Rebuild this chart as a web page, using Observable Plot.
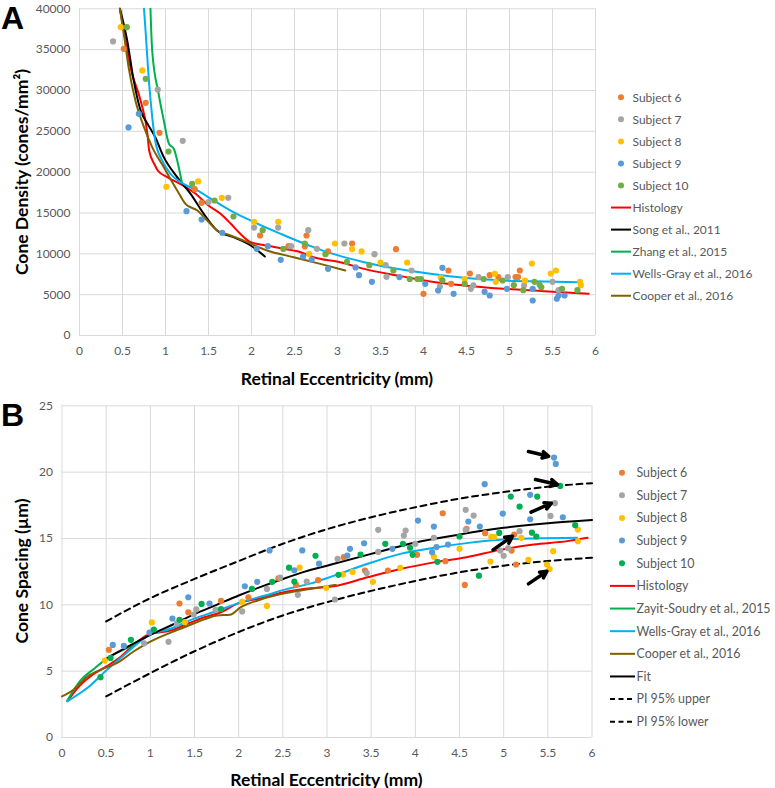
<!DOCTYPE html>
<html>
<head>
<meta charset="utf-8">
<script src="https://cdn.jsdelivr.net/npm/d3@7"></script>
<script src="https://cdn.jsdelivr.net/npm/@observablehq/plot@0.6"></script>
<style>
  html, body { margin: 0; padding: 0; background: #fff; }
  #root { position: relative; width: 775px; height: 788px; overflow: hidden; font-family: Lato, "Open Sans", sans-serif; }
  .abs { position: absolute; }
  .title { position: absolute; font-family: Lato, sans-serif; font-weight: bold; font-size: 17.5px; color: #000; white-space: nowrap; transform: translate(-50%, -50%); }
  .ytitle { transform: translate(-50%, -50%) rotate(-90deg); }
  .panel { position: absolute; font-family: "Liberation Sans", Arial, sans-serif; font-weight: bold; font-size: 32px; color: #000; line-height: 1; }
  .leg { position: absolute; left: 0; top: 0; width: 775px; height: 788px; pointer-events: none; }
</style>
</head>
<body>
<div id="root"></div>
<script>
// ---------- shared ticks ----------
const xTicks = [0, 0.5, 1, 1.5, 2, 2.5, 3, 3.5, 4, 4.5, 5, 5.5, 6];
const yTicksA = [0, 5000, 10000, 15000, 20000, 25000, 30000, 35000, 40000];
const yTicksB = [0, 5, 10, 15, 20, 25];

// ---------- Panel A: cone density (x mm, y cones/mm²) ----------
const subj6A = [[0.515,35100],[0.77,28490],[0.93,24820],[1.34,17920],[1.42,16250],[2.10,12245],[2.43,10940],[2.64,12245],[2.62,10900],[2.89,10300],[3.17,11265],[3.68,10570],[4.00,5100],[4.29,7960],[4.32,6330],[4.54,7590],[4.77,7390],[4.87,7150],[5.07,7150],[5.10,7150],[5.12,7960]];
const subj7A = [[0.39,36000],[0.91,30120],[1.20,23840],[1.50,16330],[1.73,16860],[2.03,13220],[2.31,13220],[2.46,10940],[2.66,12900],[2.76,10610],[3.08,11265],[3.43,9960],[3.56,8610],[3.57,7185],[3.86,7960],[4.19,6000],[4.55,5715],[4.58,6150],[4.64,7140],[4.98,7140],[5.17,6150],[5.50,6570],[5.57,5550]];
const subj8A = [[0.48,37750],[0.73,32450],[1.01,18200],[1.38,18860],[1.655,16860],[2.03,13920],[2.31,13920],[2.67,10000],[2.97,11265],[3.17,10570],[3.28,10290],[3.50,8940],[3.81,8940],[4.20,7100],[4.48,6900],[4.83,7550],[4.84,6570],[5.18,6735],[5.26,8815],[5.48,7590],[5.54,7960],[5.82,6570],[5.83,6160]];
const subj9A = [[0.57,25470],[0.69,27140],[1.244,15220],[1.42,14200],[1.66,12570],[2.06,10610],[2.19,10940],[2.34,9265],[2.60,9670],[2.70,9300],[2.89,8165],[3.21,8330],[3.25,7390],[3.40,6570],[3.72,7150],[4.02,6330],[4.17,5510],[4.22,8290],[4.35,5100],[4.71,5350],[4.77,4900],[4.97,5715],[5.27,5715],[5.27,4285],[5.55,4500],[5.57,4900],[5.64,4900]];
const subj10A = [[0.55,37750],[0.77,31430],[1.035,22530],[1.31,18570],[1.57,16530],[1.79,14570],[2.13,12900],[2.37,10600],[2.62,11265],[2.86,9960],[3.11,9020],[3.37,8610],[3.65,7960],[3.84,6920],[3.93,6920],[3.97,6920],[4.22,6750],[4.48,6330],[4.70,6920],[4.92,6735],[5.05,6160],[5.16,5550],[5.29,6570],[5.35,6200],[5.37,5900],[5.61,5715],[5.79,5550]];

const histologyA = [[0.47,40000],[0.52,37000],[0.60,32500],[0.71,28780],[0.79,24690],[0.81,22650],[0.87,21000],[0.91,20200],[1.02,19390],[1.17,18570],[1.35,17350],[1.50,15920],[1.64,14900],[1.76,13680],[1.87,12450],[1.99,11430],[2.18,11020],[2.38,10610],[2.57,10200],[2.72,9590],[3.03,8980],[3.31,8160],[3.69,7350],[4.08,6620],[4.47,6120],[4.93,5720],[5.40,5430],[5.92,5100]];
const songA = [[0.47,40000],[0.555,36100],[0.63,31230],[0.71,27570],[0.79,25940],[0.88,24300],[0.98,21840],[1.136,19390],[1.29,17370],[1.445,14900],[1.60,12860],[1.79,12040],[1.99,11020],[2.155,9670]];
const zhangA = [[0.825,40000],[0.845,34900],[0.92,29600],[0.98,26330],[1.04,23470],[1.097,22860],[1.136,21430],[1.19,18780]];
const wellsGrayA = [[0.75,40000],[0.77,37000],[0.81,30800],[0.845,26800],[0.88,23880],[0.96,21430],[1.058,19800],[1.175,18780],[1.37,17760],[1.56,16530],[1.79,15100],[2.03,13880],[2.34,12450],[2.72,10820],[2.92,10080],[3.31,8980],[3.69,8160],[4.08,7550],[4.47,7060],[4.93,6740],[5.40,6610],[5.82,6530]];
const cooperA = [[0.47,40000],[0.515,37000],[0.57,32900],[0.65,28780],[0.75,25510],[0.845,23060],[0.98,20610],[1.136,17760],[1.232,16120],[1.37,15300],[1.485,14080],[1.60,12860],[1.756,12250],[1.95,11430],[2.18,10410],[2.49,9590],[2.80,8770],[3.09,7960]];

// ---------- Panel B: cone spacing (x mm, y µm) ----------
const subj6B = [[0.53,6.61],[1.33,10.1],[1.43,9.44],[1.80,10.3],[2.11,10.57],[2.45,12.0],[2.65,11.5],[2.90,11.86],[3.19,13.59],[3.43,12.58],[3.69,12.58],[4.02,13.77],[4.31,16.9],[4.34,13.29],[4.56,11.5],[4.58,15.73],[4.79,15.4],[5.09,14.09],[5.12,15.3],[5.14,13.04]];
const subj7B = [[0.93,7.1],[1.206,7.21],[1.30,8.6],[1.49,9.27],[1.52,9.65],[1.74,9.62],[2.04,9.5],[2.32,11.2],[2.47,12.05],[2.67,10.75],[2.77,11.75],[3.09,10.4],[3.12,13.46],[3.45,12.4],[3.58,15.65],[3.58,13.99],[3.87,15.22],[3.89,15.6],[4.0,14.6],[4.21,15.05],[4.57,15.65],[4.57,17.16],[4.66,16.73],[4.96,14.09],[5.0,13.7],[5.05,14.27],[5.18,15.55],[5.53,16.7],[5.58,17.66]];
const subj8B = [[0.485,5.80],[1.017,8.67],[1.39,8.69],[2.04,10.22],[2.32,9.92],[2.69,12.8],[2.99,11.28],[3.18,12.28],[3.29,12.48],[3.52,11.73],[3.83,12.79],[4.21,13.62],[4.50,14.22],[4.85,13.26],[4.86,15.12],[4.89,15.12],[5.20,15.05],[5.28,13.39],[5.49,13.04],[5.52,12.7],[5.56,14.04],[5.84,15.67],[5.84,14.8]];
const subj9B = [[0.575,6.98],[0.70,6.9],[0.99,7.91],[1.25,8.97],[1.43,10.57],[1.67,10.1],[2.07,11.4],[2.21,11.73],[2.35,14.1],[2.63,12.6],[2.72,14.1],[2.91,13.1],[3.23,13.71],[3.26,14.22],[3.42,14.64],[3.74,14.22],[4.03,16.35],[4.19,13.97],[4.21,15.9],[4.24,14.35],[4.37,14.54],[4.60,16.28],[4.73,15.9],[4.785,19.09],[4.99,16.88],[5.30,18.29],[5.30,16.45],[5.57,21.1],[5.59,20.62],[5.67,16.6]];
const subj10B = [[0.436,4.55],[0.55,6.0],[0.78,7.36],[1.04,8.14],[1.33,8.87],[1.58,10.07],[1.80,9.67],[2.15,11.2],[2.38,11.73],[2.57,12.8],[2.63,11.75],[2.87,13.7],[3.13,12.26],[3.38,13.79],[3.66,14.6],[3.86,14.6],[3.94,14.3],[3.97,13.77],[4.25,13.24],[4.50,15.15],[4.72,12.2],[4.95,15.42],[5.08,18.16],[5.18,17.4],[5.32,15.44],[5.37,15.15],[5.38,18.16],[5.64,18.96],[5.81,16.0]];

const histologyB = [[0.06,2.73],[0.20,3.9],[0.35,4.75],[0.50,5.35],[0.65,6.0],[0.80,6.9],[0.98,7.76],[1.23,8.06],[1.42,8.56],[1.61,9.06],[1.80,9.44],[1.98,10.07],[2.25,10.5],[2.55,11.0],[2.81,11.25],[3.08,11.4],[3.46,12.08],[3.83,12.7],[4.21,13.2],[4.58,13.59],[4.96,14.14],[5.34,14.54],[5.72,14.8],[5.95,15.05]];
const zayitB = [[0.06,2.78],[0.21,4.3],[0.36,5.17],[0.53,6.06],[0.74,6.75],[0.95,7.55]];
const wellsGrayB = [[0.06,2.73],[0.30,3.8],[0.51,5.1],[0.74,6.43],[0.98,7.7],[1.23,8.2],[1.49,8.94],[1.77,9.57],[2.03,10.2],[2.30,10.7],[2.55,11.2],[2.81,11.6],[3.08,12.2],[3.46,13.09],[3.83,13.84],[4.21,14.3],[4.58,14.65],[4.96,14.9],[5.34,15.0],[5.83,15.05]];
const cooperB = [[0.0,3.1],[0.13,3.6],[0.285,4.58],[0.47,5.2],[0.62,5.6],[0.81,6.48],[1.0,7.23],[1.23,7.9],[1.42,8.4],[1.61,8.9],[1.76,9.2],[1.90,9.25],[2.02,9.8],[2.25,10.4],[2.55,10.9],[2.81,11.2],[3.10,11.5]];
const fitB = [[0.5,5.93],[0.75,6.86],[1.0,7.73],[1.25,8.5],[1.5,9.3],[1.75,10.0],[2.0,10.7],[2.25,11.35],[2.5,11.95],[2.75,12.5],[3.0,12.95],[3.5,13.84],[4.0,14.7],[4.5,15.3],[5.0,15.8],[5.5,16.15],[6.0,16.4]];
const piUpperB = [[0.5,8.75],[1.0,10.5],[1.5,11.95],[2.0,13.3],[2.5,14.6],[3.0,15.7],[3.5,16.6],[4.0,17.35],[4.5,18.0],[5.0,18.5],[5.5,18.9],[6.0,19.17]];
const piLowerB = [[0.5,3.1],[1.0,4.85],[1.5,6.5],[2.0,7.95],[2.5,9.2],[3.0,10.2],[3.5,11.05],[4.0,11.8],[4.5,12.45],[5.0,12.95],[5.5,13.3],[6.0,13.55]];
// arrows pointing at outliers: [x1, y1, x2, y2]
const arrowsB = [[5.28,21.55,5.51,21.2],[5.36,19.44,5.61,19.07],[5.31,16.98,5.54,17.66],[4.88,14.14,5.10,15.17],[5.28,11.58,5.49,12.53]];

// ---------- colours & labels ----------
const C = {orange:"#ED7D31", gray:"#A5A5A5", yellow:"#FFC000", blue:"#5B9BD5", greenA:"#70AD47", greenB:"#00B050",
           red:"#FF0000", black:"#000000", zhang:"#00B050", cyan:"#00B0F0", brown:"#7F6000"};

const subjectsA = [["Subject 6", subj6A, C.orange],["Subject 7", subj7A, C.gray],["Subject 8", subj8A, C.yellow],["Subject 9", subj9A, C.blue],["Subject 10", subj10A, C.greenA]];
const linesA = [["Histology", histologyA, C.red],["Song et al., 2011", songA, C.black],["Zhang et al., 2015", zhangA, C.zhang],["Wells-Gray et al., 2016", wellsGrayA, C.cyan],["Cooper et al., 2016", cooperA, C.brown]];
const subjectsB = [["Subject 6", subj6B, C.orange],["Subject 7", subj7B, C.gray],["Subject 8", subj8B, C.yellow],["Subject 9", subj9B, C.blue],["Subject 10", subj10B, C.greenB]];
const linesB = [["Histology", histologyB, C.red, false],["Zayit-Soudry et al., 2015", zayitB, C.greenB, false],["Wells-Gray et al., 2016", wellsGrayB, C.cyan, false],["Cooper et al., 2016", cooperB, C.brown, false],["Fit", fitB, C.black, false],["PI 95% upper", piUpperB, C.black, true],["PI 95% lower", piLowerB, C.black, true]];

const fmt = d => String(d);
const gridStyle = {stroke:"#D9D9D9", strokeOpacity:1, strokeWidth:1};

function panel(opts) {
  const {yDomain, yTicks, subjects, lines, extra, marginLeft, marginRight, marginTop, marginBottom, height} = opts;
  const marks = [
    Plot.gridX(xTicks, gridStyle),
    Plot.gridY(yTicks, gridStyle),
    Plot.axisX(xTicks, {tickSize:0, tickPadding:11, tickFormat:fmt, label:null, fill:"#595959", fontSize:12}),
    Plot.axisY(yTicks, {tickSize:0, tickPadding:9, tickFormat:fmt, label:null, fill:"#595959", fontSize:12}),
  ];
  for (const [name, data, color, dashed] of lines) {
    marks.push(Plot.line(data, {x:d=>d[0], y:d=>d[1], stroke:color, strokeWidth:2, curve:"monotone-x", strokeDasharray: dashed ? "6,4.5" : null}));
  }
  for (const [name, data, color] of subjects) {
    marks.push(Plot.dot(data, {x:d=>d[0], y:d=>d[1], r:3.1, fill:color, stroke:"none"}));
  }
  if (extra) marks.push(...extra);
  return Plot.plot({
    width: 775, height, marginLeft, marginRight, marginTop, marginBottom,
    x: {domain:[0,6], axis:null},
    y: {domain:yDomain, axis:null},
    style: {fontFamily:"Lato, sans-serif", fontSize:"12px", background:"transparent", overflow:"visible"},
    marks
  });
}

const root = document.getElementById("root");

const chartA = panel({yDomain:[0,40000], yTicks:yTicksA, subjects:subjectsA, lines:linesA.map(l=>[...l,false]),
  marginLeft:79, marginRight:180, marginTop:8.3, marginBottom:60, height:395});
const wrapA = document.createElement("div"); wrapA.className = "abs"; wrapA.style.left = "0px"; wrapA.style.top = "0px";
wrapA.appendChild(chartA); root.appendChild(wrapA);

const chartB = panel({yDomain:[0,25], yTicks:yTicksB, subjects:subjectsB, lines:linesB,
  extra:[Plot.arrow(arrowsB, {x1:d=>d[0], y1:d=>d[1], x2:d=>d[2], y2:d=>d[3], stroke:"#000", strokeWidth:3.5, headLength:9, headAngle:55})],
  marginLeft:61.5, marginRight:183.5, marginTop:10.3, marginBottom:51, height:393});
const wrapB = document.createElement("div"); wrapB.className = "abs"; wrapB.style.left = "0px"; wrapB.style.top = "395px";
wrapB.appendChild(chartB); root.appendChild(wrapB);

// ---------- titles ----------
function addDiv(cls, text, x, y, extraStyle) {
  const d = document.createElement("div"); d.className = cls; d.textContent = text;
  d.style.left = x + "px"; d.style.top = y + "px";
  if (extraStyle) Object.assign(d.style, extraStyle);
  root.appendChild(d); return d;
}
addDiv("title", "Retinal Eccentricity (mm)", 337, 378);
addDiv("title", "Retinal Eccentricity (mm)", 326.5, 779);
addDiv("title ytitle", "Cone Density (cones/mm²)", 21, 172);
addDiv("title ytitle", "Cone Spacing (µm)", 21, 571);
addDiv("panel", "A", 1, 2);
addDiv("panel", "B", 1, 399);

// ---------- legends (SVG overlay) ----------
const ns = "http://www.w3.org/2000/svg";
const leg = document.createElementNS(ns, "svg");
leg.setAttribute("class", "leg"); leg.setAttribute("width", 775); leg.setAttribute("height", 788);
root.appendChild(leg);
function legend(items, y0, step, dotX, lx1, lx2, tx, fs) {
  items.forEach((it, i) => {
    const y = y0 + i * step;
    if (it.type === "dot") {
      const c = document.createElementNS(ns, "circle");
      c.setAttribute("cx", dotX); c.setAttribute("cy", y); c.setAttribute("r", 3); c.setAttribute("fill", it.color);
      leg.appendChild(c);
    } else {
      const l = document.createElementNS(ns, "line");
      l.setAttribute("x1", lx1); l.setAttribute("x2", lx2); l.setAttribute("y1", y); l.setAttribute("y2", y);
      l.setAttribute("stroke", it.color); l.setAttribute("stroke-width", 2);
      if (it.dashed) l.setAttribute("stroke-dasharray", "5,3.5");
      leg.appendChild(l);
    }
    const t = document.createElementNS(ns, "text");
    t.setAttribute("x", tx); t.setAttribute("y", y); t.setAttribute("dy", "0.35em");
    t.setAttribute("font-family", "Lato, sans-serif"); t.setAttribute("font-size", fs); t.setAttribute("fill", "#595959");
    t.textContent = it.name;
    leg.appendChild(t);
  });
}
legend([...subjectsA.map(s=>({type:"dot", name:s[0], color:s[2]})), ...linesA.map(l=>({type:"line", name:l[0], color:l[2]}))],
  97.3, 22.05, 621, 611, 631, 632.5, 12);
legend([...subjectsB.map(s=>({type:"dot", name:s[0], color:s[2]})), ...linesB.map(l=>({type:"line", name:l[0], color:l[2], dashed:l[3]}))],
  472.7, 22.64, 622, 610, 635, 636.5, 12.4);
</script>
</body>
</html>
